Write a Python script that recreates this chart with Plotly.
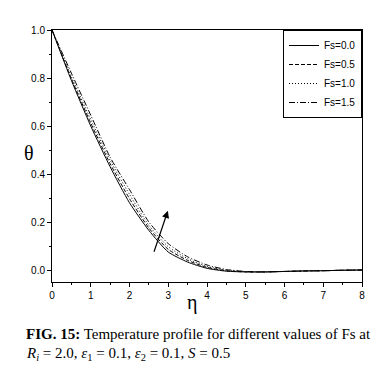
import plotly.graph_objects as go

eta = [0, 0.5, 1.0, 1.5, 2.0, 2.5, 3.0, 3.5, 4.0, 4.5, 5.0, 5.5, 6.0, 6.5, 7.0, 7.5, 8.0]
theta_fs00 = [1.0, 0.790, 0.600, 0.430, 0.280, 0.165, 0.075, 0.033, 0.007, -0.005, -0.008, -0.008, -0.006, -0.004, -0.003, -0.001, 0.0]
theta_fs05 = [1.0, 0.797, 0.612, 0.443, 0.297, 0.175, 0.086, 0.040, 0.011, -0.003, -0.008, -0.008, -0.006, -0.004, -0.003, -0.001, 0.0]
theta_fs10 = [1.0, 0.806, 0.627, 0.457, 0.315, 0.186, 0.097, 0.047, 0.015, -0.001, -0.007, -0.008, -0.006, -0.004, -0.003, -0.001, 0.0]
theta_fs15 = [1.0, 0.820, 0.645, 0.470, 0.335, 0.200, 0.110, 0.055, 0.021, 0.002, -0.006, -0.008, -0.006, -0.004, -0.003, -0.001, 0.0]

series_names = ["Fs=0.0", "Fs=0.5", "Fs=1.0", "Fs=1.5"]
series_vals = [theta_fs00, theta_fs05, theta_fs10, theta_fs15]
dashes = ["solid", "4px,2px", "1px,2px", "6px,2px,1px,2px"]

arrow_tail = (2.62, 0.07)
arrow_head = (2.99, 0.247)

fig = go.Figure()
for name, vals, d in zip(series_names, series_vals, dashes):
    fig.add_trace(go.Scatter(x=eta, y=vals, mode="lines", name=name,
                             line=dict(color="black", width=1, dash=d, shape="spline", smoothing=0.6)))

fig.add_annotation(x=arrow_head[0], y=arrow_head[1], ax=arrow_tail[0], ay=arrow_tail[1],
                   xref="x", yref="y", axref="x", ayref="y", text="", showarrow=True,
                   arrowhead=2, arrowsize=1.2, arrowwidth=1.2, arrowcolor="black")

fig.add_annotation(x=-0.075, y=0.51, xref="paper", yref="paper", text="θ", showarrow=False,
                   font=dict(family="Liberation Serif", size=20, color="black"),
                   xanchor="center", yanchor="middle")
fig.add_annotation(x=0.45, y=-0.08, xref="paper", yref="paper", text="η", showarrow=False,
                   font=dict(family="Liberation Serif", size=20, color="black"),
                   xanchor="center", yanchor="middle")

fig.add_annotation(x=-0.09, y=-0.205, xref="paper", yref="paper", xanchor="left", yanchor="middle",
                   text="<b>FIG. 15:</b> Temperature profile for different values of Fs at",
                   showarrow=False, font=dict(family="Liberation Serif", size=15, color="black"))
fig.add_annotation(x=-0.09, y=-0.285, xref="paper", yref="paper", xanchor="left", yanchor="middle",
                   text="<i>R<sub>i</sub></i> = 2.0, <i>ε</i><sub>1</sub> = 0.1, <i>ε</i><sub>2</sub> = 0.1, <i>S</i> = 0.5",
                   showarrow=False, font=dict(family="Liberation Serif", size=15, color="black"))

axis_common = dict(showline=True, linecolor="black", linewidth=1, mirror=True, ticks="outside",
                   ticklen=4, tickcolor="black", showgrid=False, zeroline=False,
                   tickfont=dict(family="Liberation Sans", size=10, color="black"))
fig.update_xaxes(range=[0, 8], tick0=0, dtick=1,
                 minor=dict(dtick=0.5, ticks="outside", ticklen=2, tickcolor="black"), **axis_common)
fig.update_yaxes(range=[-0.05, 1.0], tick0=0, dtick=0.2, tickformat=".1f",
                 minor=dict(tick0=0, dtick=0.1, ticks="outside", ticklen=2, tickcolor="black"), **axis_common)

fig.update_layout(width=371, height=365, margin=dict(l=44, r=17, t=22, b=91),
                  plot_bgcolor="white", paper_bgcolor="white", showlegend=True,
                  legend=dict(x=1, y=1, xanchor="right", yanchor="top", bgcolor="white",
                              bordercolor="black", borderwidth=1,
                              font=dict(family="Liberation Sans", size=10, color="black"),
                              itemwidth=30, tracegroupgap=0))

fig.write_html("out.html")
